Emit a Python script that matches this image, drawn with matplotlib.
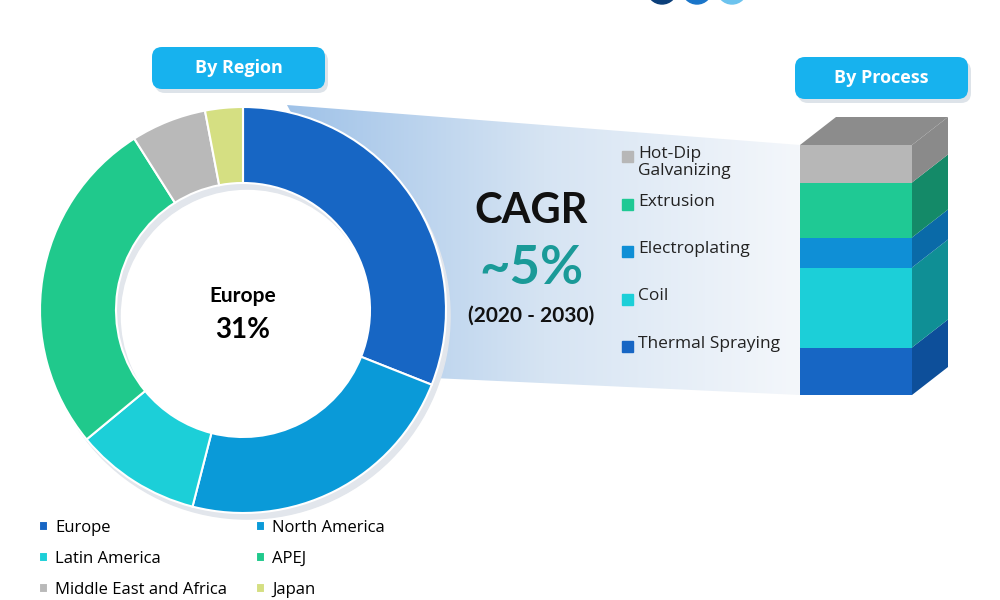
import numpy as np
import matplotlib.pyplot as plt
from matplotlib.patches import FancyBboxPatch, Polygon, Rectangle, Circle, Wedge
from matplotlib.colors import LinearSegmentedColormap

# Region split (share %)
regions = ['Europe', 'North America', 'Latin America', 'APEJ',
           'Middle East and Africa', 'Japan']
region_share = [31, 23, 10, 27, 6, 3]
region_colors = ['#1766c4', '#0a9ad8', '#1ccfd8', '#20c98c', '#b9b9b9', '#d5df82']

# Process split (share %), bottom to top of the stacked column
processes = ['Thermal Spraying', 'Coil', 'Electroplating', 'Extrusion',
             'Hot-Dip\nGalvanizing']
process_share = [19, 32, 12, 22, 15]
process_colors = ['#1766c4', '#1ccfd8', '#0f8fd6', '#1fc994', '#b7b7b7']
process_side = ['#0d4f9a', '#0f8f95', '#0a6aa8', '#148a68', '#8a8a8a']

cagr_text = ['CAGR', '~5%', '(2020 - 2030)']
W, H = 1000, 600

plt.rcParams['font.family'] = ['Open Sans', 'DejaVu Sans']
fig = plt.figure(figsize=(10, 6), dpi=100)
fig.patch.set_facecolor('white')

# background axes in pixel coords
bg = fig.add_axes([0, 0, 1, 1])
bg.set_xlim(0, W)
bg.set_ylim(H, 0)
bg.axis('off')

# connector shape from donut to column, gradient filled
conn = Polygon([(287, 105), (800, 145), (800, 395), (433, 378)],
               closed=True, facecolor='none', edgecolor='none')
bg.add_patch(conn)
grad = np.linspace(0, 1, 256).reshape(1, -1)
cmap = LinearSegmentedColormap.from_list('g', ['#9fc2e8', '#d6e4f3', '#f4f7fb'])
im = bg.imshow(grad, extent=(287, 800, 395, 105), cmap=cmap, aspect='auto', zorder=0)
im.set_clip_path(conn)

# logo circles, cut off at top
for lx, c in zip([662, 697, 732], ['#0b3f7a', '#1a75c9', '#6cc3ee']):
    bg.add_patch(Circle((lx, -11), 15, color=c))

# header boxes
def header(x, y, w, h, label):
    bg.add_patch(FancyBboxPatch((x + 3, y + 4), w, h, boxstyle='round,pad=0,rounding_size=10',
                                facecolor='#cfd8e0', edgecolor='none', alpha=0.7))
    bg.add_patch(FancyBboxPatch((x, y), w, h, boxstyle='round,pad=0,rounding_size=10',
                                facecolor='#17b2ee', edgecolor='none'))
    bg.text(x + w / 2, y + h / 2, label, ha='center', va='center', color='white',
            fontsize=13, fontweight='bold')

header(152, 47, 173, 42, 'By Region')
header(795, 57, 173, 42, 'By Process')

# donut
cx, cy, r_out, r_in = 243, 310, 203, 127
half = 212
ring = (r_out - r_in) / r_out
dax = fig.add_axes([(cx - half) / W, 1 - (cy + half) / H, 2 * half / W, 2 * half / H])
dax.add_patch(Wedge((0.02, -0.03), 1.0, 0, 360, width=ring, color='#e2e6ec', zorder=0))
wedges, _ = dax.pie(region_share, colors=region_colors, startangle=90, counterclock=False,
                    radius=1, wedgeprops=dict(width=ring, edgecolor='white', linewidth=1.5))
dax.set_xlim(-half / r_out, half / r_out)
dax.set_ylim(-half / r_out, half / r_out)
dax.set_aspect('equal')
dax.axis('off')
dax.text(0, 0.07, regions[0], ha='center', va='center', fontsize=15, fontweight='bold',
         family=['Lato', 'DejaVu Sans'])
dax.text(0, -0.1, f'{region_share[0]}%', ha='center', va='center', fontsize=20,
         fontweight='bold', family=['Lato', 'DejaVu Sans'])

# region legend, row-major order
order = [0, 2, 4, 1, 3, 5]
fig.legend([wedges[i] for i in order], [regions[i] for i in order], ncol=2,
           loc='upper left', bbox_to_anchor=(32 / W, 1 - 513 / H), frameon=False,
           fontsize=12, handlelength=0.55, handleheight=0.55, handletextpad=0.45,
           labelspacing=0.9, columnspacing=1.7, borderaxespad=0)

# stacked 3D column
x0, x1, y_top, y_bot = 800, 912, 145, 395
bax = fig.add_axes([x0 / W, 1 - y_bot / H, (x1 - x0) / W, (y_bot - y_top) / H])
bax.set_xlim(0, 1)
bax.set_ylim(0, sum(process_share))
bax.axis('off')
ddx = 36 / (x1 - x0)
ddy = 28 / (y_bot - y_top) * sum(process_share)
bottom = 0
for v, c, sc in zip(process_share, process_colors, process_side):
    bax.bar(0.5, v, width=1, bottom=bottom, color=c, edgecolor='none')
    side = Polygon([(1, bottom), (1 + ddx, bottom + ddy), (1 + ddx, bottom + v + ddy),
                    (1, bottom + v)], closed=True, facecolor=sc, edgecolor='none', clip_on=False)
    bax.add_patch(side)
    bottom += v
top = Polygon([(0, bottom), (ddx, bottom + ddy), (1 + ddx, bottom + ddy), (1, bottom)],
              closed=True, facecolor='#8c8c8c', edgecolor='none', clip_on=False)
bax.add_patch(top)

# process legend, top entry first
for i, (name, c) in enumerate(zip(processes[::-1], process_colors[::-1])):
    y = 157 + i * 47.5
    bg.add_patch(Rectangle((622, y - 6), 11, 11, color=c))
    bg.text(638, y - 11, name, ha='left', va='top', fontsize=12.5, color='#222222',
            linespacing=1.05)

# CAGR block
bg.text(531, 211, cagr_text[0], ha='center', va='center', fontsize=30, fontweight='bold',
        family=['Lato', 'DejaVu Sans'], color='#111111')
bg.text(531, 268, cagr_text[1], ha='center', va='center', fontsize=38, fontweight='bold',
        family=['Lato', 'DejaVu Sans'], color='#1a9a98')
bg.text(531, 316, cagr_text[2], ha='center', va='center', fontsize=15, fontweight='bold',
        family=['Lato', 'DejaVu Sans'], color='#111111')

fig.savefig('out.png', dpi=100, facecolor='white')
